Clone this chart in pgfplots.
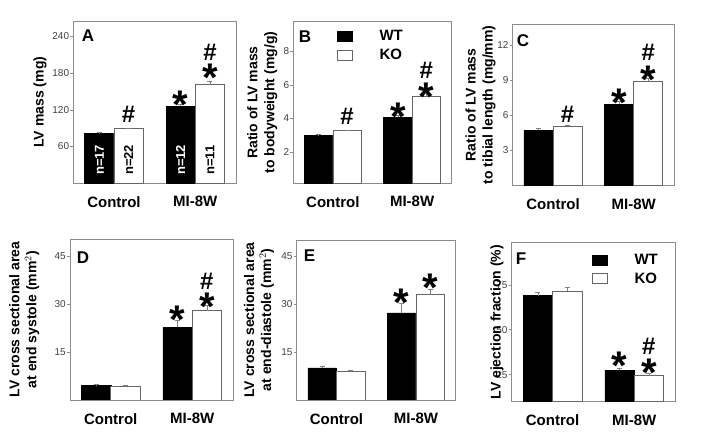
\documentclass[border=0pt]{standalone}
\usepackage{fontspec}
\setmainfont{Liberation Sans}
\usepackage{pgfplots}
\pgfplotsset{compat=1.18}

\definecolor{framegray}{gray}{0.55}
\definecolor{tickgray}{gray}{0.25}

\newcommand{\aster}{\fontsize{40}{40}\selectfont\bfseries *}
\newcommand{\hash}{\fontsize{24}{24}\selectfont\bfseries \#}

\pgfplotsset{
  panel/.style={
    scale only axis,
    anchor=south west,
    ybar=0pt,
    bar width=0.36,
    xmin=-0.5, xmax=1.5,
    xtick={0,1},
    xticklabels={Control,MI-8W},
    x tick style={draw=none},
    xticklabel style={font=\bfseries\fontsize{15}{15}\selectfont, inner sep=0pt, yshift=-10pt},
    ytick pos=left,
    ytick style={framegray, line width=0.5pt},
    tick align=outside,
    major tick length=3pt,
    yticklabel style={font=\fontsize{10}{10}\selectfont, text=tickgray, inner sep=1pt},
    /pgf/number format/assume math mode=true,
    axis line style={framegray, line width=0.8pt},
    ylabel style={font=\bfseries\fontsize{14}{17}\selectfont, align=center, anchor=center},
    ymin=0,
    error bars/y dir=plus,
    error bars/y explicit,
    error bars/error bar style={gray, line width=0.6pt},
    error bars/error mark options={rotate=90, mark size=2.5pt, gray, line width=0.6pt},
    legend style={draw=none, fill=none, inner sep=0pt,
      font=\bfseries\fontsize{15}{15}\selectfont, row sep=5pt,
      nodes={inner sep=1pt},
      /tikz/every odd column/.append style={column sep=26pt}},
    legend cell align=left,
  },
  wt/.style={fill=black, draw=black},
  ko/.style={fill=white, draw=gray!80!black, line width=0.6pt},
  sqleg/.style={legend image code/.code={\draw[##1] (0pt,-5pt) rectangle (15pt,5pt);}},
}

\begin{document}
\begin{tikzpicture}
\useasboundingbox (0,0) rectangle (702pt,447pt);

% A: LV mass
\begin{axis}[panel, at={(73.3pt,263.7pt)}, width=162.7pt, height=162.3pt,
  ymax=265, ytick={60,120,180,240},
  ylabel={LV mass (mg)},
  ylabel style={at={(axis description cs:-0.205,0.5)}}]
\addplot[wt] coordinates {(0,81) +- (0,1.5) (1,126) +- (0,3)};
\addplot[ko] coordinates {(0,89) +- (0,1.5) (1,161) +- (0,5)};
\node[rotate=90, anchor=west, inner sep=0pt, text=white, font=\bfseries\fontsize{13}{13}\selectfont] at (axis cs:-0.18,13.5) {n=17};
\node[rotate=90, anchor=west, inner sep=0pt, font=\bfseries\fontsize{13}{13}\selectfont] at (axis cs:0.18,13.5) {n=22};
\node[rotate=90, anchor=west, inner sep=0pt, text=white, font=\bfseries\fontsize{13}{13}\selectfont] at (axis cs:0.82,13.5) {n=12};
\node[rotate=90, anchor=west, inner sep=0pt, font=\bfseries\fontsize{13}{13}\selectfont] at (axis cs:1.18,13.5) {n=11};
\node at (axis cs:0.18,111.8) {\hash};
\node[yshift=-8pt] at (axis cs:0.82,141.7) {\aster};
\node[yshift=-8pt] at (axis cs:1.18,185.0) {\aster};
\node at (axis cs:1.18,214.0) {\hash};
\end{axis}

% B: LV mass / bodyweight
\begin{axis}[panel, at={(293.3pt,263.7pt)}, width=158.4pt, height=161.6pt,
  ymin=0.15, ymax=9.76, ytick={2,4,6,8},
  ylabel={Ratio of LV mass\\to bodyweight (mg/g)},
  ylabel style={at={(axis description cs:-0.196,0.5)}},
  legend style={at={(axis description cs:0.274,0.953)}, anchor=north west}]
\addplot[wt, sqleg] coordinates {(0,3.0) +- (0,0.05) (1,4.08) +- (0,0.12)};
\addplot[ko, sqleg] coordinates {(0,3.29) +- (0,0.04) (1,5.33) +- (0,0.2)};
\legend{WT,KO}
\node at (axis cs:0.18,4.12) {\hash};
\node[yshift=-8pt] at (axis cs:0.82,4.56) {\aster};
\node[yshift=-8pt] at (axis cs:1.18,5.78) {\aster};
\node at (axis cs:1.18,6.85) {\hash};
\end{axis}

% C: LV mass / tibial length
\begin{axis}[panel, at={(512.7pt,261.3pt)}, width=161.3pt, height=161.7pt,
  ymax=13.8, ytick={3,6,9,12},
  ylabel={Ratio of LV mass\\to tibial length (mg/mm)},
  ylabel style={at={(axis description cs:-0.2,0.5)}}]
\addplot[wt] coordinates {(0,4.72) +- (0,0.2) (1,6.93) +- (0,0.3)};
\addplot[ko] coordinates {(0,5.06) +- (0,0.08) (1,8.91) +- (0,0.28)};
\node at (axis cs:0.18,6.05) {\hash};
\node[yshift=-8pt] at (axis cs:0.82,7.75) {\aster};
\node[yshift=-8pt] at (axis cs:1.18,9.7) {\aster};
\node at (axis cs:1.18,11.35) {\hash};
\end{axis}

% D: end systole area
\begin{axis}[panel, at={(70pt,47pt)}, width=163pt, height=160.7pt,
  ymax=50.3, ytick={15,30,45},
  ylabel={LV cross sectional area\\at end systole (mm$^2$)},
  ylabel style={at={(axis description cs:-0.28,0.5)}}]
\addplot[wt] coordinates {(0,4.5) +- (0,0.3) (1,22.7) +- (0,2.4)};
\addplot[ko] coordinates {(0,4.2) +- (0,0.3) (1,28.0) +- (0,1.6)};
\node[yshift=-8pt] at (axis cs:0.82,27.6) {\aster};
\node[yshift=-8pt] at (axis cs:1.18,31.6) {\aster};
\node at (axis cs:1.18,37.3) {\hash};
\end{axis}

% E: end diastole area
\begin{axis}[panel, at={(296.7pt,47pt)}, width=159pt, height=160pt,
  ymax=50.2, ytick={15,30,45},
  ylabel={LV cross sectional area\\at end-diastole (mm$^2$)},
  ylabel style={at={(axis description cs:-0.237,0.5)}}]
\addplot[wt] coordinates {(0,10.1) +- (0,0.4) (1,27.3) +- (0,3.0)};
\addplot[ko] coordinates {(0,8.9) +- (0,0.5) (1,33.1) +- (0,1.7)};
\node[yshift=-8pt] at (axis cs:0.82,32.9) {\aster};
\node[yshift=-8pt] at (axis cs:1.18,37.6) {\aster};
\end{axis}

% F: ejection fraction
\begin{axis}[panel, at={(511.7pt,45.3pt)}, width=163.3pt, height=159pt,
  ymin=10, ymax=98.4, ytick={25,50,75},
  ylabel={LV ejection fraction (\%)},
  ylabel style={at={(axis description cs:-0.09,0.5)}},
  legend style={at={(axis description cs:0.49,0.937)}, anchor=north west}]
\addplot[wt, sqleg] coordinates {(0,69.0) +- (0,1.7) (1,27.5) +- (0,1.3)};
\addplot[ko, sqleg] coordinates {(0,71.4) +- (0,2.1) (1,24.4) +- (0,1.3)};
\legend{WT,KO}
\node[yshift=-8pt] at (axis cs:0.82,34.3) {\aster};
\node[yshift=-8pt] at (axis cs:1.18,30.4) {\aster};
\node at (axis cs:1.18,41.0) {\hash};
\end{axis}

% panel letters
\begin{scope}[every node/.style={font=\bfseries\fontsize{17}{17}\selectfont, inner sep=0pt}]
\node at (88pt,411.5pt) {A};
\node at (305pt,410.3pt) {B};
\node at (523pt,406.5pt) {C};
\node at (83pt,189.5pt) {D};
\node at (309.5pt,191pt) {E};
\node at (521pt,188pt) {F};
\end{scope}
\end{tikzpicture}
\end{document}
